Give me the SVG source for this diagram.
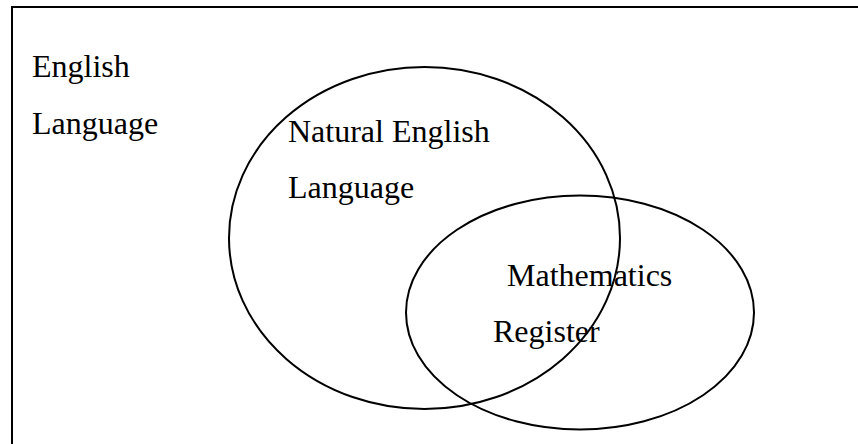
<svg xmlns="http://www.w3.org/2000/svg" width="858" height="444" viewBox="0 0 858 444">
<style>
.t{font-family:"Liberation Serif","Times New Roman",serif;font-size:32px;fill:#000}
.s{fill:none;stroke:#000;stroke-width:2}
</style>
<rect x="0" y="0" width="858" height="444" fill="#fff"/>
<g id="universe">
<rect class="s" x="12" y="7" width="860" height="450"/>
<text class="t" x="32" y="77">English</text>
<text class="t" x="32" y="134">Language</text>
</g>
<g id="natural">
<ellipse class="s" cx="424.5" cy="238" rx="195.5" ry="171"/>
<text class="t" x="288" y="142">Natural English</text>
<text class="t" x="288" y="198">Language</text>
</g>
<g id="math">
<ellipse class="s" cx="580" cy="312.5" rx="174" ry="117"/>
<text class="t" x="507" y="286">Mathematics</text>
<text class="t" x="493" y="342">Register</text>
</g>
<g id="connectors"/>
</svg>
